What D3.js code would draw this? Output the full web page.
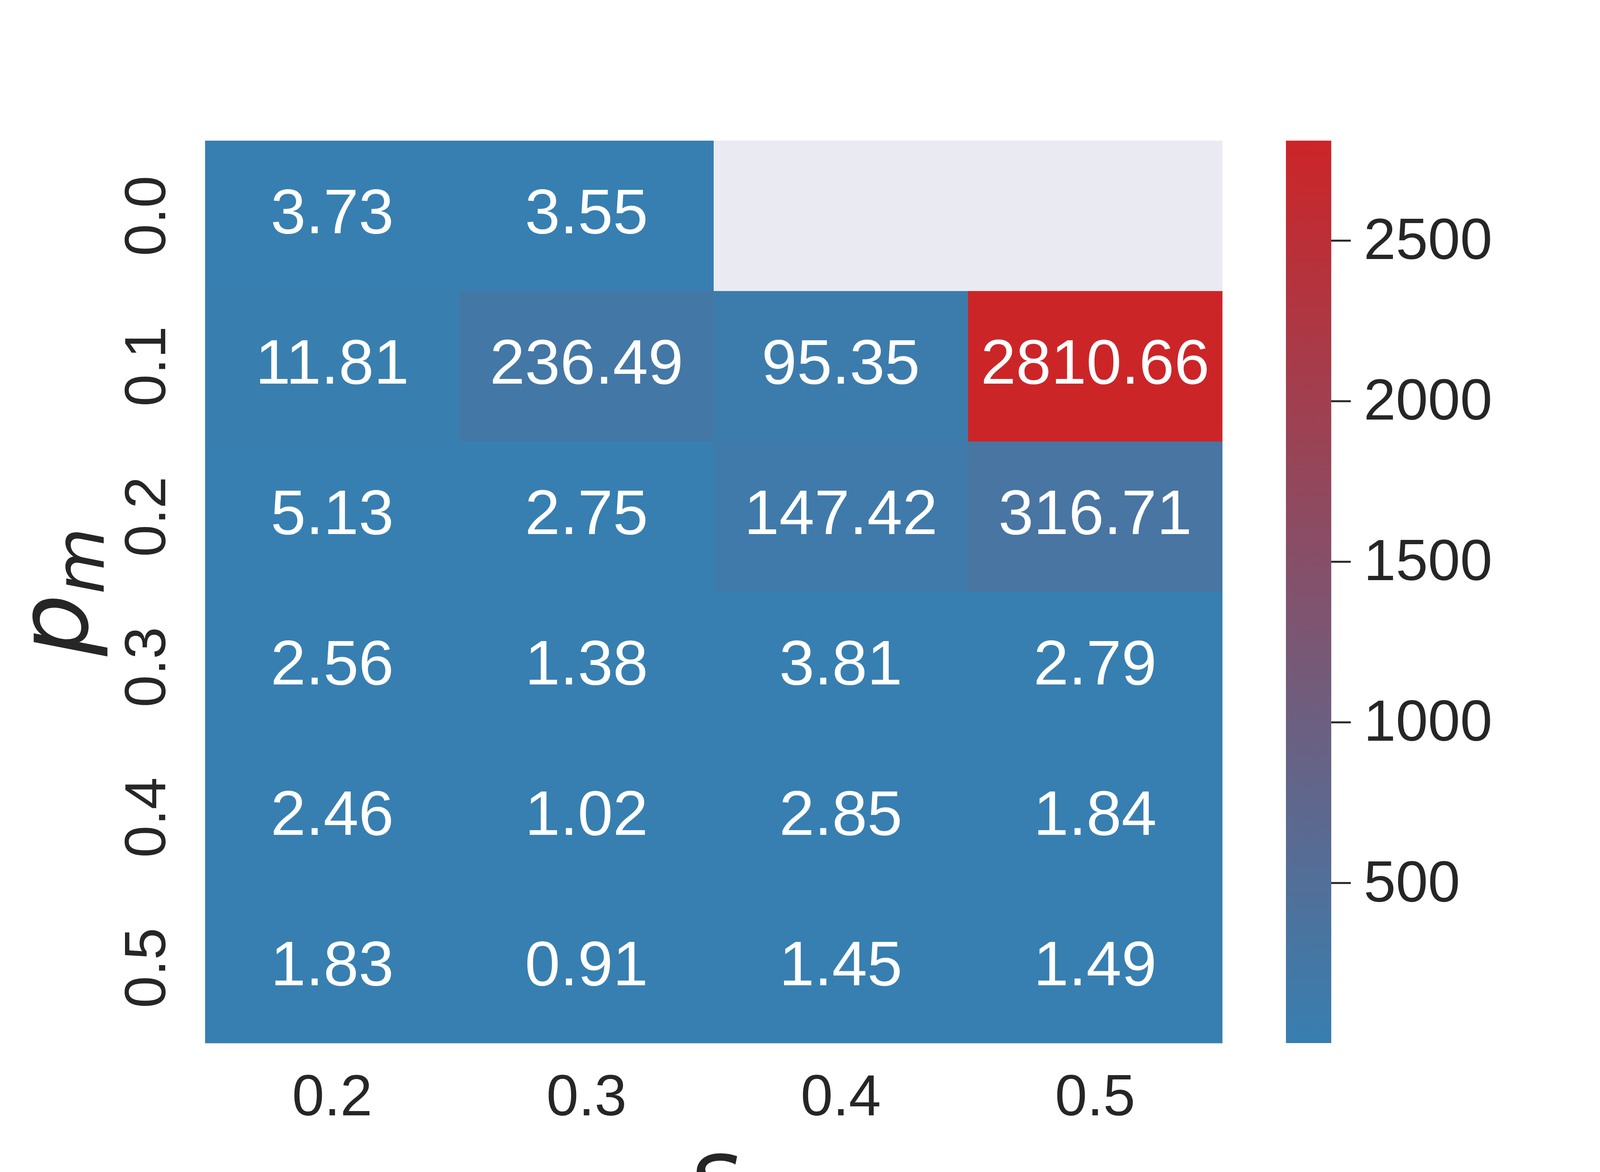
<!DOCTYPE html>
<html>
<head>
<meta charset="utf-8">
<script src="https://cdn.jsdelivr.net/npm/d3@7"></script>
<style>
  body { margin: 0; background: #fff; }
  text { font-family: "Liberation Sans", Arial, sans-serif; }
</style>
</head>
<body>
<svg id="chart" width="4200" height="3000"></svg>
<script>
// data
var sLabels = ["0.2", "0.3", "0.4", "0.5"];
var pmLabels = ["0.0", "0.1", "0.2", "0.3", "0.4", "0.5"];
// one row per p_m, one value per s (null = no value)
var cellValues = [
  [3.73, 3.55, null, null],
  [11.81, 236.49, 95.35, 2810.66],
  [5.13, 2.75, 147.42, 316.71],
  [2.56, 1.38, 3.81, 2.79],
  [2.46, 1.02, 2.85, 1.84],
  [1.83, 0.91, 1.45, 1.49]
];
var cbTicks = [500, 1000, 1500, 2000, 2500];

var textColor = "#262626";
var nanColor = "#eaeaf2";
var lowColor = "rgb(55,127,177)";
var highColor = "rgb(204,37,40)";

var svg = d3.select("#chart");

// plot box (window.top is read-only, so no bare "top")
var plotL = 525, plotR = 3129, plotT = 360, plotB = 2670;

var x = d3.scaleBand().domain(sLabels).range([plotL, plotR]).padding(0);
var y = d3.scaleBand().domain(pmLabels).range([plotT, plotB]).padding(0);

var flat = [];
cellValues.forEach(function(row, i) {
  row.forEach(function(v, j) {
    flat.push({ pm: pmLabels[i], s: sLabels[j], v: v });
  });
});

var present = flat.filter(function(d) { return d.v != null; }).map(function(d) { return d.v; });
var vmin = d3.min(present), vmax = d3.max(present);

var color = d3.scaleLinear()
  .domain([vmin, vmax])
  .range([lowColor, highColor])
  .interpolate(d3.interpolateRgb);

// cells
var cells = svg.append("g")
  .selectAll("g")
  .data(flat)
  .enter()
  .append("g");

cells.append("rect")
  .attr("x", function(d) { return x(d.s); })
  .attr("y", function(d) { return y(d.pm); })
  .attr("width", x.bandwidth() + 0.5)
  .attr("height", y.bandwidth() + 0.5)
  .attr("fill", function(d) { return d.v == null ? nanColor : color(d.v); });

cells.filter(function(d) { return d.v != null; })
  .append("text")
  .attr("x", function(d) { return x(d.s) + x.bandwidth() / 2; })
  .attr("y", function(d) { return y(d.pm) + y.bandwidth() / 2 + 44; })
  .attr("text-anchor", "middle")
  .attr("font-size", 162)
  .attr("fill", "#fff")
  .text(function(d) { return d.v.toFixed(2); });

// x tick labels
svg.append("g")
  .selectAll("text")
  .data(sLabels)
  .enter()
  .append("text")
  .attr("x", function(d) { return x(d) + x.bandwidth() / 2; })
  .attr("y", 2855)
  .attr("text-anchor", "middle")
  .attr("font-size", 148)
  .attr("fill", textColor)
  .text(function(d) { return d; });

// y tick labels (rotated)
svg.append("g")
  .selectAll("text")
  .data(pmLabels)
  .enter()
  .append("text")
  .attr("transform", function(d) { return "translate(423," + (y(d) + y.bandwidth() / 2) + ") rotate(-90)"; })
  .attr("text-anchor", "middle")
  .attr("font-size", 148)
  .attr("fill", textColor)
  .text(function(d) { return d; });

// axis labels
var ylab = svg.append("text")
  .attr("transform", "translate(223," + ((plotT + plotB) / 2) + ") rotate(-90)")
  .attr("text-anchor", "middle")
  .attr("font-size", 250)
  .attr("fill", textColor)
  .style("font-family", "'DejaVu Sans', sans-serif")
  .style("font-style", "italic");
ylab.append("tspan").text("p");
ylab.append("tspan").attr("dy", 42).attr("font-size", 175).text("m");

svg.append("text")
  .attr("x", (plotL + plotR) / 2)
  .attr("y", 3092)
  .attr("text-anchor", "middle")
  .attr("font-size", 250)
  .attr("fill", textColor)
  .style("font-family", "'DejaVu Sans', sans-serif")
  .style("font-style", "italic")
  .text("s");

// colorbar
var cbLeft = 3292, cbWidth = 116;
var cbScale = d3.scaleLinear().domain([vmin, vmax]).range([plotB, plotT]);

var grad = svg.append("defs").append("linearGradient")
  .attr("id", "cbgrad")
  .attr("x1", 0).attr("y1", 1).attr("x2", 0).attr("y2", 0);
d3.range(0, 1.0001, 0.1).forEach(function(t) {
  grad.append("stop")
    .attr("offset", t)
    .attr("stop-color", color(vmin + t * (vmax - vmin)));
});

svg.append("rect")
  .attr("x", cbLeft)
  .attr("y", plotT)
  .attr("width", cbWidth)
  .attr("height", plotB - plotT)
  .attr("fill", "url(#cbgrad)");

var cbAxis = svg.append("g")
  .attr("transform", "translate(" + (cbLeft + cbWidth) + ",0)")
  .call(d3.axisRight(cbScale).tickValues(cbTicks).tickSize(50).tickPadding(33).tickFormat(d3.format("d")));

cbAxis.select(".domain").remove();
cbAxis.selectAll(".tick line").attr("stroke", textColor).attr("stroke-width", 5);
cbAxis.selectAll(".tick text")
  .attr("fill", textColor)
  .attr("font-size", 148)
  .attr("font-family", "Liberation Sans, Arial, sans-serif");
</script>
</body>
</html>
